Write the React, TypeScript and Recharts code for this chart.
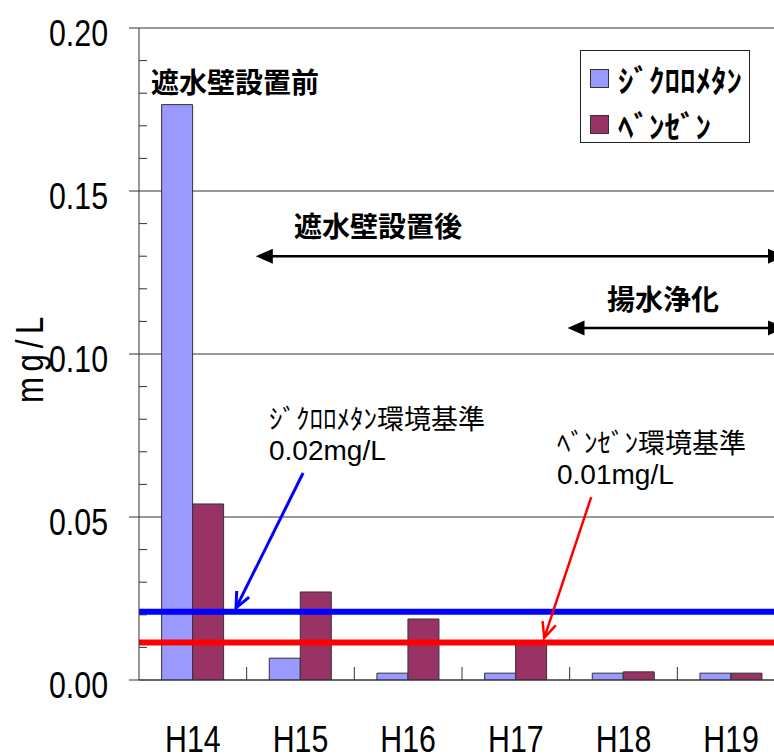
import { BarChart, Bar, XAxis, YAxis, CartesianGrid, ReferenceLine, Legend } from "recharts"

const years = ["H14", "H15", "H16", "H17", "H18", "H19"]
const dichloromethane = [0.1765, 0.0067, 0.0021, 0.0021, 0.0021, 0.0021]
const benzene = [0.054, 0.027, 0.0187, 0.011, 0.0025, 0.0021]
const seriesNames = ["ｼﾞｸﾛﾛﾒﾀﾝ", "ﾍﾞﾝｾﾞﾝ"]
const seriesColors = ["#9999FF", "#993366"]
const yTicks = [0, 0.05, 0.1, 0.15, 0.2]
const minorTicks = [0.01, 0.02, 0.03, 0.04, 0.06, 0.07, 0.08, 0.09, 0.11, 0.12, 0.13, 0.14, 0.16, 0.17, 0.18, 0.19]
const dcmStandard = 0.0209
const bzStandard = 0.0115
const categoryEdges = [1, 2, 3, 4, 5]

// arrows, x in category units (0..6), y in mg/L
const afterArrow = [{ x: 1.085, y: 0.13 }, { x: 6, y: 0.13 }]
const pumpArrow = [{ x: 3.98, y: 0.108 }, { x: 6, y: 0.108 }]
const dcmPointer = [{ x: 1.524, y: 0.0635 }, { x: 0.901, y: 0.0221 }]
const bzPointer = [{ x: 4.2, y: 0.0561 }, { x: 3.764, y: 0.0129 }]

const data = years.map((year, i) => ({ year, pos: i + 0.5, dcm: dichloromethane[i], bz: benzene[i] }))

// no Arial Narrow here: Liberation Sans squeezed horizontally
const SANS = "'Liberation Sans', Arial, sans-serif"
const JP = "'Noto Sans CJK JP', sans-serif"
const SQUEEZE = 0.82

const YTick = (p: any) => (
  <g transform={`translate(${p.x},${p.y + 17.5})`}>
    <text transform={`scale(${SQUEEZE},1)`} textAnchor="end" fontFamily={SANS} fontSize={37} fill="#000">
      {p.payload.value.toFixed(2)}
    </text>
  </g>
)

const XTick = (p: any) => (
  <g transform={`translate(${p.x},${p.y + 72})`}>
    <text transform={`scale(${SQUEEZE},1)`} textAnchor="middle" fontFamily={SANS} fontSize={37} fill="#000">
      {p.payload.value}
    </text>
  </g>
)

const minorTick = (p: any) => {
  const x = Math.min(p.x1, p.x2)
  return <line x1={x} y1={p.y1} x2={x + 8} y2={p.y1} stroke="#333" strokeWidth={1} />
}

const edgeTick = (p: any) => {
  const y = Math.max(p.y1, p.y2)
  return <line x1={p.x1} y1={y} x2={p.x1} y2={y - 13} stroke="#333" strokeWidth={1} />
}

const spanArrow = (p: any) => {
  const xa = Math.min(p.x1, p.x2)
  const xb = Math.max(p.x1, p.x2)
  const y = p.y1
  const L = 17
  const H = 7.5
  return (
    <g>
      <line x1={xa + L - 2} y1={y} x2={xb - L + 2} y2={y} stroke="#000" strokeWidth={2.5} />
      <polygon points={`${xa},${y} ${xa + L},${y - H} ${xa + L},${y + H}`} fill="#000" />
      <polygon points={`${xb},${y} ${xb - L},${y - H} ${xb - L},${y + H}`} fill="#000" />
    </g>
  )
}

const pointer = (color: string, w: number) => (p: any) => {
  const { x1, y1, x2, y2 } = p
  const a = Math.atan2(y2 - y1, x2 - x1)
  const L = 17
  const s = 0.42
  const ax = x2 - L * Math.cos(a - s)
  const ay = y2 - L * Math.sin(a - s)
  const bx = x2 - L * Math.cos(a + s)
  const by = y2 - L * Math.sin(a + s)
  return (
    <g>
      <line x1={x1} y1={y1} x2={x2} y2={y2} stroke={color} strokeWidth={w} />
      <polyline points={`${ax},${ay} ${x2},${y2} ${bx},${by}`} fill="none" stroke={color} strokeWidth={w} />
    </g>
  )
}

const LegendBox = () => (
  <div
    style={{
      width: 170,
      height: 93,
      boxSizing: "border-box",
      border: "1.5px solid #222",
      background: "#fff",
      paddingTop: 4,
      paddingLeft: 9,
    }}
  >
    {seriesNames.map((name, i) => (
      <div key={name} style={{ display: "flex", alignItems: "center", height: 46 }}>
        <span
          style={{
            display: "inline-block",
            width: 19,
            height: 19,
            boxSizing: "border-box",
            background: seriesColors[i],
            border: "1.5px solid #333",
            marginRight: 9,
          }}
        />
        <span style={{ fontFamily: JP, fontSize: 31, fontWeight: 700, lineHeight: 1, color: "#000" }}>{name}</span>
      </div>
    ))}
  </div>
)

const note = (text: string, left: number, top: number, size: number, font: string, weight = 400) => (
  <div
    style={{
      position: "absolute",
      left,
      top,
      fontFamily: font,
      fontSize: size,
      fontWeight: weight,
      lineHeight: 1,
      whiteSpace: "nowrap",
      color: "#000",
    }}
  >
    {text}
  </div>
)

export default function App() {
  return (
    <div style={{ position: "absolute", left: 0, top: 0, width: 774, height: 756, overflow: "hidden", background: "#fff" }}>
      <BarChart
        width={790}
        height={756}
        data={data}
        margin={{ top: 28, right: 5, left: 0, bottom: 0 }}
        barCategoryGap="21%"
        barGap={0}
      >
        <CartesianGrid vertical={false} stroke="#333" strokeWidth={1} />
        <XAxis
          dataKey="year"
          height={76}
          tickLine={false}
          tickSize={0}
          tickMargin={0}
          axisLine={{ stroke: "#333" }}
          tick={XTick}
          interval={0}
        />
        <XAxis xAxisId="n" dataKey="pos" type="number" domain={[0, 6]} hide allowDataOverflow />
        <YAxis
          width={139}
          domain={[0, 0.2]}
          ticks={yTicks}
          tickSize={10}
          tickMargin={21}
          tickLine={{ stroke: "#333" }}
          axisLine={{ stroke: "#333" }}
          tick={YTick}
          allowDataOverflow
          label={{
            content: (props: any) => {
              const vb = props.viewBox
              const x = vb.x + 43
              const y = vb.y + vb.height / 2 + 3
              return (
                <g transform={`translate(${x},${y}) rotate(-90)`}>
                  <text
                    transform={`scale(${SQUEEZE},1)`}
                    textAnchor="middle"
                    fontFamily={SANS}
                    fontSize={38}
                    letterSpacing={7}
                    fill="#000"
                  >
                    mg/L
                  </text>
                </g>
              )
            },
          }}
        />
        <Legend
          layout="vertical"
          align="center"
          verticalAlign="middle"
          wrapperStyle={{ left: 580, top: 50, width: 170, height: 93 }}
          content={() => <LegendBox />}
        />
        <Bar dataKey="dcm" name={seriesNames[0]} fill={seriesColors[0]} stroke="#333" strokeWidth={1} isAnimationActive={false} />
        <Bar dataKey="bz" name={seriesNames[1]} fill={seriesColors[1]} stroke="#333" strokeWidth={1} isAnimationActive={false} />
        {minorTicks.map((v) => (
          <ReferenceLine key={"m" + v} y={v} shape={minorTick} />
        ))}
        {categoryEdges.map((v) => (
          <ReferenceLine key={"e" + v} xAxisId="n" x={v} shape={edgeTick} />
        ))}
        <ReferenceLine y={dcmStandard} stroke="#0000FF" strokeWidth={6} />
        <ReferenceLine y={bzStandard} stroke="#FF0000" strokeWidth={6} />
        <ReferenceLine xAxisId="n" segment={afterArrow} shape={spanArrow} ifOverflow="visible" />
        <ReferenceLine xAxisId="n" segment={pumpArrow} shape={spanArrow} ifOverflow="visible" />
        <ReferenceLine xAxisId="n" segment={dcmPointer} shape={pointer("#0000FF", 3)} />
        <ReferenceLine xAxisId="n" segment={bzPointer} shape={pointer("#FF0000", 2.5)} />
      </BarChart>
      {note("遮水壁設置前", 151, 67, 28, JP, 700)}
      {note("遮水壁設置後", 294, 211, 28, JP, 700)}
      {note("揚水浄化", 607, 284, 28, JP, 700)}
      {note("ｼﾞｸﾛﾛﾒﾀﾝ環境基準", 269, 404, 27, JP)}
      {note("0.02mg/L", 269, 437, 28, SANS)}
      {note("ﾍﾞﾝｾﾞﾝ環境基準", 557, 428, 27, JP)}
      {note("0.01mg/L", 557, 461, 28, SANS)}
    </div>
  )
}
